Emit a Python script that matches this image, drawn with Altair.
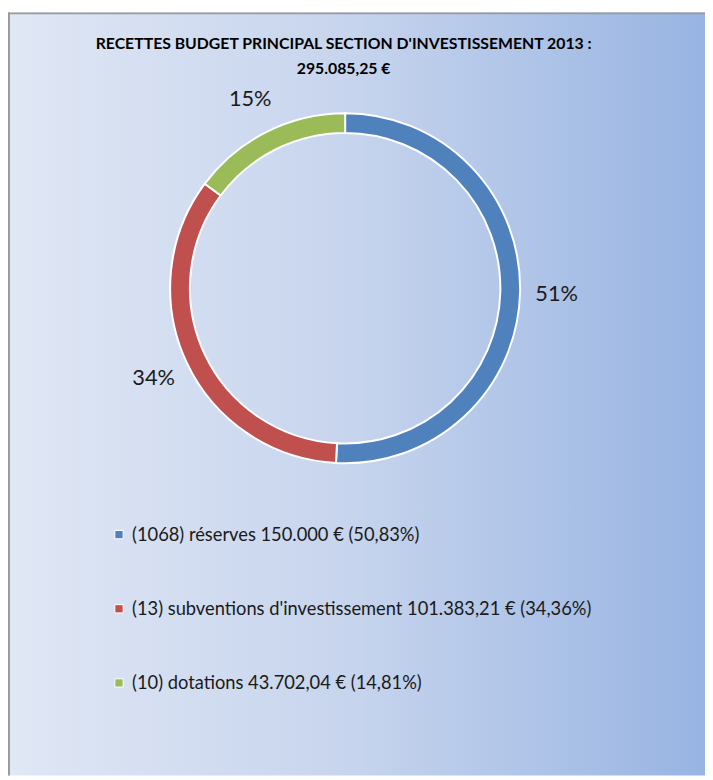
import altair as alt
import pandas as pd

# ---- data ----
categories = [
    "(1068) réserves 150.000 € (50,83%)",
    "(13) subventions d'investissement 101.383,21 € (34,36%)",
    "(10) dotations 43.702,04 €  (14,81%)",
]
values = [150000.00, 101383.21, 43702.04]
colors = ["#4f81bd", "#c0504d", "#9bbb59"]
title_lines = ["RECETTES BUDGET PRINCIPAL SECTION D'INVESTISSEMENT 2013 :", "295.085,25 €"]

df = pd.DataFrame({"label": categories, "value": values, "order": list(range(len(values)))})
bg_df = pd.DataFrame({"k": [0]})

W, H = 705, 772
CX, CY = 341, 279

gradient = alt.LinearGradient(
    gradient="linear",
    x1=0, x2=1, y1=0, y2=0,
    stops=[
        alt.GradientStop(offset=0, color="#e0e7f5"),
        alt.GradientStop(offset=0.5, color="#c6d4ed"),
        alt.GradientStop(offset=1, color="#98b4e2"),
    ],
)

background = alt.Chart(bg_df).mark_rect(fill=gradient).encode(
    x=alt.value(0), x2=alt.value(W), y=alt.value(0), y2=alt.value(H)
)

base = alt.Chart(df).encode(
    theta=alt.Theta("value:Q", stack=True),
    order=alt.Order("order:Q"),
)

arcs = base.mark_arc(innerRadius=157, outerRadius=177, stroke="white", strokeWidth=2).encode(
    x=alt.value(CX),
    y=alt.value(CY),
    color=alt.Color(
        "label:N",
        scale=alt.Scale(domain=categories, range=colors),
        sort=categories,
        legend=alt.Legend(
            title=None,
            orient="none",
            legendX=103,
            legendY=519,
            direction="vertical",
            symbolType="square",
            symbolSize=70,
            symbolStrokeColor="white",
            symbolStrokeWidth=1,
            symbolOpacity=1,
            labelFont="Lato",
            labelFontSize=18.5,
            labelColor="#1a1a1a",
            labelLimit=700,
            labelOffset=4,
            rowPadding=56,
            padding=0,
        ),
    ),
)

labels = base.mark_text(radius=214, font="Lato", fontSize=22, color="#1a1a1a").encode(
    x=alt.value(CX),
    y=alt.value(CY),
    text=alt.Text("pct:N"),
).transform_joinaggregate(total="sum(value)").transform_calculate(
    pct="format(datum.value / datum.total, '.0%')"
)

left_border = alt.Chart(bg_df).mark_rule(color="#9a9a9a", strokeWidth=2).encode(
    x=alt.value(1), y=alt.value(0), y2=alt.value(H)
)
top_border = alt.Chart(bg_df).mark_rule(color="#9a9a9a", strokeWidth=2).encode(
    y=alt.value(1), x=alt.value(0), x2=alt.value(W)
)

chart = alt.layer(background, arcs, labels, left_border, top_border).properties(
    width=W,
    height=H,
    padding=0,
    autosize=alt.AutoSizeParams(type="none"),
    title=alt.Title(
        text=title_lines,
        font="Lato",
        fontSize=16,
        fontWeight="bold",
        color="#000000",
        anchor="middle",
        frame="group",
        lineHeight=25,
        dx=-13,
        dy=70,
    ),
).configure_view(stroke="transparent")

chart.save("out.html", embed_options={"renderer": "svg", "actions": False})
